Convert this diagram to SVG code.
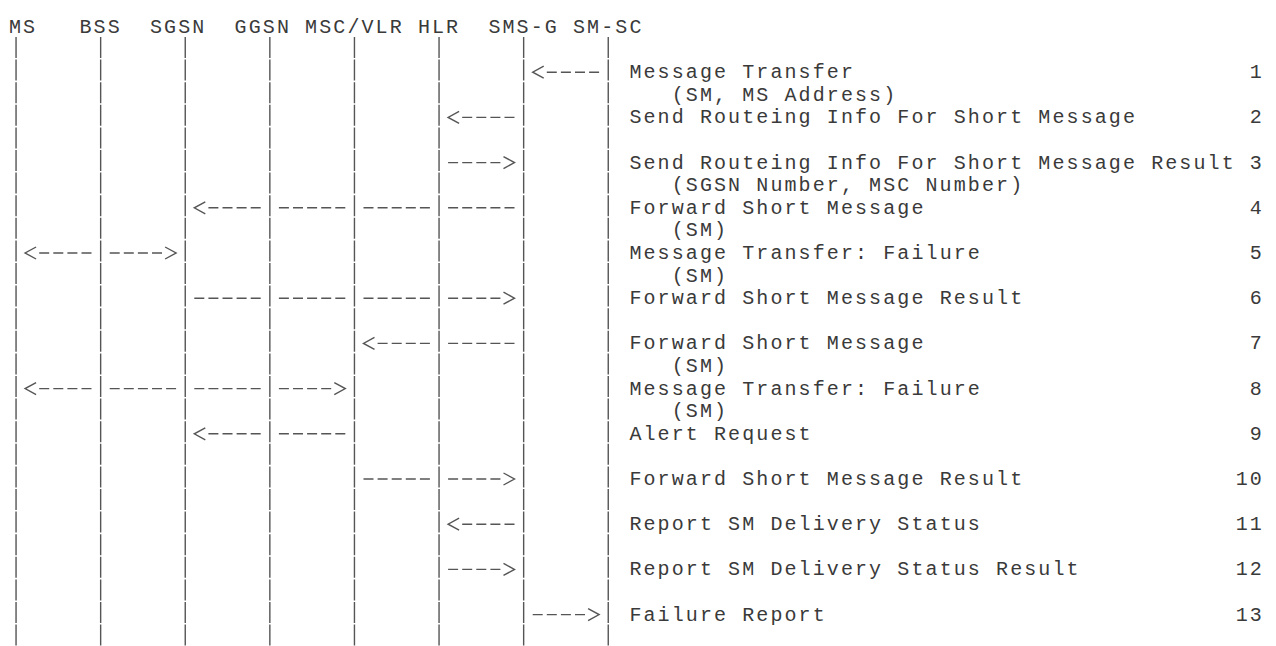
<svg xmlns="http://www.w3.org/2000/svg" width="1276" height="646" viewBox="0 0 1276 646">
<style>
  text { font-family: "Liberation Mono", "DejaVu Sans Mono", monospace; font-size: 20px; letter-spacing: 2.1px; fill: #3a3a3a; }
  .life { stroke: #555; stroke-width: 1.4; stroke-dasharray: 21 1.6; fill: none; }
  .dash { stroke: #555; stroke-width: 1.4; stroke-dasharray: 10 4.1; fill: none; }
  .head { stroke: #555; stroke-width: 1.4; fill: none; }
</style>
<rect width="1276" height="646" fill="#fff"/>

<g id="node-ms"><text x="9" y="33">MS</text><line class="life" x1="16.05" y1="37" x2="16.05" y2="646"/></g>
<g id="node-bss"><text x="79.5" y="33">BSS</text><line class="life" x1="100.65" y1="37" x2="100.65" y2="646"/></g>
<g id="node-sgsn"><text x="150" y="33">SGSN</text><line class="life" x1="185.25" y1="37" x2="185.25" y2="646"/></g>
<g id="node-ggsn"><text x="234.6" y="33">GGSN</text><line class="life" x1="269.85" y1="37" x2="269.85" y2="646"/></g>
<g id="node-msc"><text x="305.1" y="33">MSC/VLR</text><line class="life" x1="354.45" y1="37" x2="354.45" y2="646"/></g>
<g id="node-hlr"><text x="417.9" y="33">HLR</text><line class="life" x1="439.05" y1="37" x2="439.05" y2="646"/></g>
<g id="node-smsg"><text x="488.4" y="33">SMS-G</text><line class="life" x1="523.65" y1="37" x2="523.65" y2="646"/></g>
<g id="node-smsc"><text x="573" y="33">SM-SC</text><line class="life" x1="608.25" y1="37" x2="608.25" y2="646"/></g>

<g id="connectors" transform="translate(0,1)">
  <!-- 1 -->
  <polyline class="head" points="543.7,65.2 532.7,71.2 543.7,77.2"/><line class="dash" x1="546.8" y1="71.2" x2="599.1" y2="71.2"/>
  <!-- 2 -->
  <polyline class="head" points="459.1,110.4 448.1,116.4 459.1,122.4"/><line class="dash" x1="462.2" y1="116.4" x2="514.5" y2="116.4"/>
  <!-- 3 -->
  <line class="dash" x1="448.1" y1="161.6" x2="500.4" y2="161.6"/><polyline class="head" points="503.5,155.6 514.5,161.6 503.5,167.6"/>
  <!-- 4 -->
  <polyline class="head" points="205.3,200.8 194.3,206.8 205.3,212.8"/><line class="dash" x1="208.4" y1="206.8" x2="260.7" y2="206.8"/>
  <line class="dash" x1="278.9" y1="206.8" x2="345.3" y2="206.8"/>
  <line class="dash" x1="363.5" y1="206.8" x2="429.9" y2="206.8"/>
  <line class="dash" x1="448.1" y1="206.8" x2="514.5" y2="206.8"/>
  <!-- 5 -->
  <polyline class="head" points="36.1,246 25.1,252 36.1,258"/><line class="dash" x1="39.2" y1="252" x2="91.5" y2="252"/>
  <line class="dash" x1="109.7" y1="252" x2="162" y2="252"/><polyline class="head" points="165.1,246 176.1,252 165.1,258"/>
  <!-- 6 -->
  <line class="dash" x1="194.3" y1="297.2" x2="260.7" y2="297.2"/>
  <line class="dash" x1="278.9" y1="297.2" x2="345.3" y2="297.2"/>
  <line class="dash" x1="363.5" y1="297.2" x2="429.9" y2="297.2"/>
  <line class="dash" x1="448.1" y1="297.2" x2="500.4" y2="297.2"/><polyline class="head" points="503.5,291.2 514.5,297.2 503.5,303.2"/>
  <!-- 7 -->
  <polyline class="head" points="374.5,336.4 363.5,342.4 374.5,348.4"/><line class="dash" x1="377.6" y1="342.4" x2="429.9" y2="342.4"/>
  <line class="dash" x1="448.1" y1="342.4" x2="514.5" y2="342.4"/>
  <!-- 8 -->
  <polyline class="head" points="36.1,381.6 25.1,387.6 36.1,393.6"/><line class="dash" x1="39.2" y1="387.6" x2="91.5" y2="387.6"/>
  <line class="dash" x1="109.7" y1="387.6" x2="176.1" y2="387.6"/>
  <line class="dash" x1="194.3" y1="387.6" x2="260.7" y2="387.6"/>
  <line class="dash" x1="278.9" y1="387.6" x2="331.2" y2="387.6"/><polyline class="head" points="334.3,381.6 345.3,387.6 334.3,393.6"/>
  <!-- 9 -->
  <polyline class="head" points="205.3,426.8 194.3,432.8 205.3,438.8"/><line class="dash" x1="208.4" y1="432.8" x2="260.7" y2="432.8"/>
  <line class="dash" x1="278.9" y1="432.8" x2="345.3" y2="432.8"/>
  <!-- 10 -->
  <line class="dash" x1="363.5" y1="478" x2="429.9" y2="478"/>
  <line class="dash" x1="448.1" y1="478" x2="500.4" y2="478"/><polyline class="head" points="503.5,472 514.5,478 503.5,484"/>
  <!-- 11 -->
  <polyline class="head" points="459.1,517.2 448.1,523.2 459.1,529.2"/><line class="dash" x1="462.2" y1="523.2" x2="514.5" y2="523.2"/>
  <!-- 12 -->
  <line class="dash" x1="448.1" y1="568.4" x2="500.4" y2="568.4"/><polyline class="head" points="503.5,562.4 514.5,568.4 503.5,574.4"/>
  <!-- 13 -->
  <line class="dash" x1="532.7" y1="613.6" x2="585" y2="613.6"/><polyline class="head" points="588.1,607.6 599.1,613.6 588.1,619.6"/>
</g>

<g id="messages">
  <text x="629.4" y="78.2">Message Transfer</text><text x="1249.8" y="78.2">1</text>
  <text x="671.7" y="100.8">(SM, MS Address)</text>
  <text x="629.4" y="123.4">Send Routeing Info For Short Message</text><text x="1249.8" y="123.4">2</text>
  <text x="629.4" y="168.6">Send Routeing Info For Short Message Result</text><text x="1249.8" y="168.6">3</text>
  <text x="671.7" y="191.2">(SGSN Number, MSC Number)</text>
  <text x="629.4" y="213.8">Forward Short Message</text><text x="1249.8" y="213.8">4</text>
  <text x="671.7" y="236.4">(SM)</text>
  <text x="629.4" y="259">Message Transfer: Failure</text><text x="1249.8" y="259">5</text>
  <text x="671.7" y="281.6">(SM)</text>
  <text x="629.4" y="304.2">Forward Short Message Result</text><text x="1249.8" y="304.2">6</text>
  <text x="629.4" y="349.4">Forward Short Message</text><text x="1249.8" y="349.4">7</text>
  <text x="671.7" y="372">(SM)</text>
  <text x="629.4" y="394.6">Message Transfer: Failure</text><text x="1249.8" y="394.6">8</text>
  <text x="671.7" y="417.2">(SM)</text>
  <text x="629.4" y="439.8">Alert Request</text><text x="1249.8" y="439.8">9</text>
  <text x="629.4" y="485">Forward Short Message Result</text><text x="1235.7" y="485">10</text>
  <text x="629.4" y="530.2">Report SM Delivery Status</text><text x="1235.7" y="530.2">11</text>
  <text x="629.4" y="575.4">Report SM Delivery Status Result</text><text x="1235.7" y="575.4">12</text>
  <text x="629.4" y="620.6">Failure Report</text><text x="1235.7" y="620.6">13</text>
</g>
</svg>
